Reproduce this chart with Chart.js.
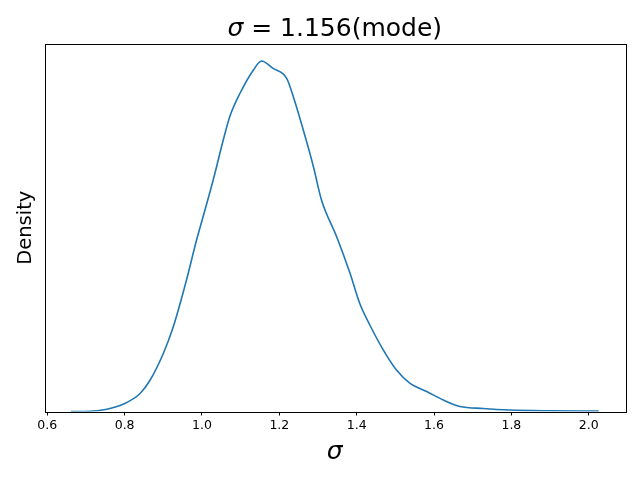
<!DOCTYPE html>
<html>
<head>
<meta charset="utf-8">
<script src="https://cdn.jsdelivr.net/npm/chart.js@4"></script>
<style>
  body { margin: 0; background: #fff; }
  canvas { display: block; }
</style>
</head>
<body>
<canvas id="kde" width="640" height="480"></canvas>
<script>
// density curve of sigma
var sigmaValues = [0.661, 0.711, 0.754, 0.797, 0.840, 0.866, 0.900, 0.926, 0.960, 0.986,
  1.003, 1.029, 1.055, 1.072, 1.098, 1.133, 1.154, 1.184, 1.219, 1.236,
  1.262, 1.288, 1.309, 1.348, 1.383, 1.408, 1.434, 1.469, 1.503, 1.538,
  1.581, 1.624, 1.667, 1.727, 1.796, 1.900, 2.026];
var densityValues = [0.000, 0.002, 0.015, 0.050, 0.121, 0.211, 0.389, 0.570, 0.882, 1.150,
  1.307, 1.552, 1.820, 1.978, 2.132, 2.290, 2.350, 2.300, 2.233, 2.112,
  1.887, 1.643, 1.418, 1.173, 0.925, 0.724, 0.580, 0.412, 0.278, 0.188,
  0.134, 0.077, 0.034, 0.020, 0.010, 0.005, 0.003];
var xTicks = [0.6, 0.8, 1.0, 1.2, 1.4, 1.6, 1.8, 2.0];
var modeValue = 1.156;

var FONT = "'DejaVu Sans', sans-serif";

var points = sigmaValues.map(function (s, i) {
  return { x: s, y: densityValues[i] };
});

// matplotlib style: box around the axes and a mixed italic title
var framePlugin = {
  id: 'frame',
  afterDraw: function (chart) {
    var a = chart.chartArea;
    var ctx = chart.ctx;
    ctx.save();
    ctx.strokeStyle = '#000';
    ctx.lineWidth = 1;
    ctx.strokeRect(Math.round(a.left) + 0.5, Math.round(a.top) + 0.5,
      Math.round(a.right - a.left), Math.round(a.bottom - a.top));

    var part1 = 'σ';
    var part2 = ' = ' + modeValue.toFixed(3) + '(mode)';
    ctx.font = 'italic 25px ' + FONT;
    var w1 = ctx.measureText(part1).width;
    ctx.font = '25px ' + FONT;
    var w2 = ctx.measureText(part2).width;
    var x0 = (a.left + a.right) / 2 - (w1 + w2) / 2;
    ctx.fillStyle = '#000';
    ctx.textBaseline = 'alphabetic';
    ctx.textAlign = 'left';
    ctx.font = 'italic 25px ' + FONT;
    ctx.fillText(part1, x0, 36);
    ctx.font = '25px ' + FONT;
    ctx.fillText(part2, x0 + w1, 36);
    ctx.restore();
  }
};

new Chart(document.getElementById('kde').getContext('2d'), {
  type: 'line',
  data: {
    datasets: [{
      data: points,
      borderColor: '#1f77b4',
      borderWidth: 1.6,
      pointRadius: 0,
      fill: false,
      cubicInterpolationMode: 'monotone'
    }]
  },
  options: {
    responsive: false,
    animation: false,
    layout: { padding: { top: 44, right: 15, left: 0, bottom: 0 } },
    plugins: {
      legend: { display: false },
      tooltip: { enabled: false }
    },
    scales: {
      x: {
        type: 'linear',
        min: 0.5928,
        max: 2.0938,
        afterBuildTicks: function (scale) {
          scale.ticks = xTicks.map(function (v) { return { value: v }; });
        },
        afterFit: function (scale) { scale.height = 68.5; },
        grid: {
          drawOnChartArea: false,
          drawTicks: true,
          tickLength: 4,
          color: '#000'
        },
        border: { display: false },
        ticks: {
          color: '#000',
          padding: 3,
          maxRotation: 0,
          font: { family: FONT, size: 12.5 },
          callback: function (v) { return Number(v).toFixed(1); }
        },
        title: {
          display: true,
          text: 'σ',
          color: '#000',
          padding: { top: 4, bottom: 13 },
          font: { family: FONT, size: 25, style: 'italic' }
        }
      },
      y: {
        min: 0,
        max: 2.464,
        afterFit: function (scale) { scale.width = 44.5; },
        grid: { display: false },
        border: { display: false },
        ticks: { display: false },
        title: {
          display: true,
          text: 'Density',
          color: '#000',
          padding: { top: 14, bottom: 0 },
          font: { family: FONT, size: 19.5 }
        }
      }
    }
  },
  plugins: [framePlugin]
});
</script>
</body>
</html>
